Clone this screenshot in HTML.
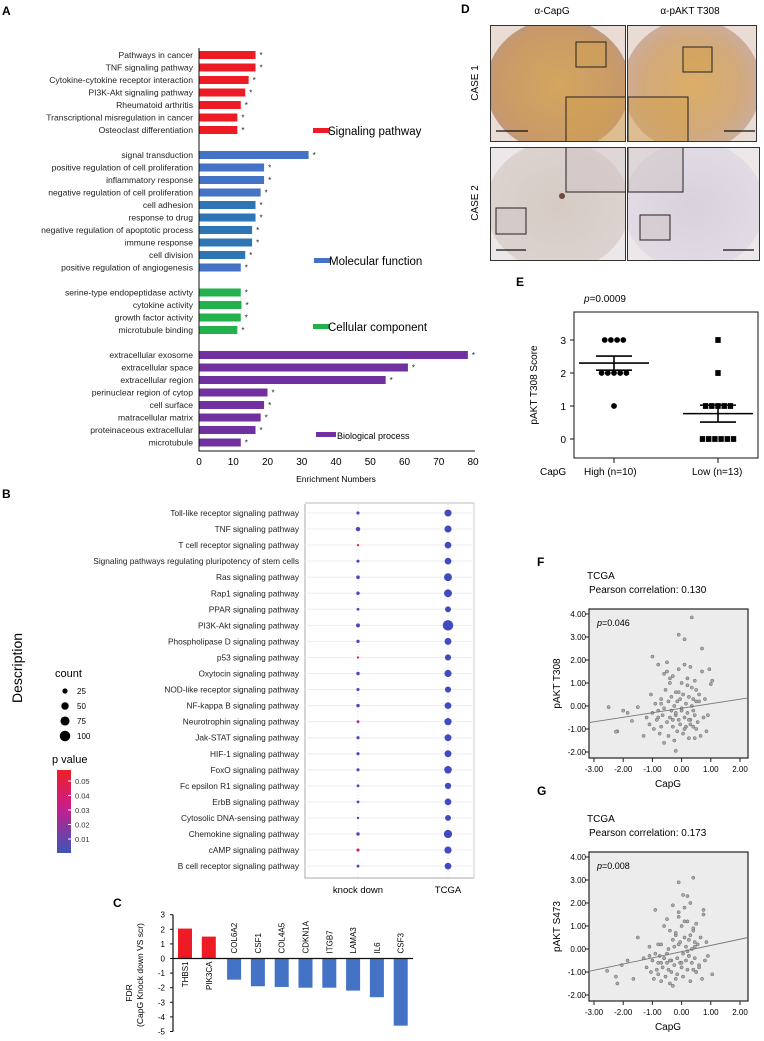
<!DOCTYPE html>
<html><head><meta charset="utf-8"><style>
html,body{margin:0;padding:0;background:#fff}
svg{display:block;font-family:"Liberation Sans",Arial,sans-serif}
</style></head><body>
<svg id="fig" width="764" height="1041" viewBox="0 0 764 1041" xmlns="http://www.w3.org/2000/svg">
<defs>
<radialGradient id="tan" cx="50%" cy="50%" r="60%"><stop offset="0" stop-color="#d4a65e"/><stop offset="0.7" stop-color="#c99a68"/><stop offset="1" stop-color="#b8958c"/></radialGradient>
<radialGradient id="tan2" cx="50%" cy="50%" r="60%"><stop offset="0" stop-color="#dcae66"/><stop offset="0.6" stop-color="#d2a97c"/><stop offset="1" stop-color="#c8b0b0"/></radialGradient>
<radialGradient id="pale" cx="50%" cy="50%" r="60%"><stop offset="0" stop-color="#d6cbc4"/><stop offset="1" stop-color="#ddd4d2"/></radialGradient>
<radialGradient id="pale2" cx="50%" cy="50%" r="60%"><stop offset="0" stop-color="#d8d2dc"/><stop offset="1" stop-color="#e2dde6"/></radialGradient>
<linearGradient id="pgrad" x1="0" y1="0" x2="0" y2="1"><stop offset="0" stop-color="#ee2027"/><stop offset="0.45" stop-color="#c81e8c"/><stop offset="1" stop-color="#3b55b5"/></linearGradient>
<clipPath id="cp1"><rect x="490" y="25" width="136" height="117"/></clipPath>
<clipPath id="cp2"><rect x="627" y="25" width="130" height="117"/></clipPath>
<clipPath id="cp3"><rect x="490" y="147" width="136" height="114"/></clipPath>
<clipPath id="cp4"><rect x="627" y="147" width="133" height="114"/></clipPath>
</defs>
<g id="gA"></g>
<g id="gB"></g>
<g id="gC"></g>
<g id="gD"></g>
<g id="gE"></g>
<g id="gF"></g>
<g id="gG"></g>
</svg>
<script>
const NS="http://www.w3.org/2000/svg";
function mk(parent,tag,attrs,text){const e=document.createElementNS(NS,tag);for(const k in attrs)e.setAttribute(k,attrs[k]);if(text!==undefined)e.textContent=text;parent.appendChild(e);return e;}

// ===== Panel A data =====
const aLabels=["Pathways in cancer","TNF signaling pathway","Cytokine-cytokine receptor interaction","PI3K-Akt signaling pathway","Rheumatoid arthritis","Transcriptional misregulation in cancer","Osteoclast differentiation","signal transduction","positive regulation of cell proliferation","inflammatory response","negative regulation of cell proliferation","cell adhesion","response to drug","negative regulation of apoptotic process","immune response","cell division","positive regulation of angiogenesis","serine-type endopeptidase activty","cytokine activity","growth factor activity","microtubule binding","extracellular exosome","extracellular space","extracellular region","perinuclear region of cytop","cell surface","matracellular matrix","proteinaceous extracellular","microtubule"];
const aValues=[16.5,16.5,14.5,13.5,12.2,11.2,11.2,32,19,19,18,16.5,16.5,15.5,15.5,13.5,12.2,12.2,12.4,12.2,11.2,78.5,61,54.5,20,19,18,16.5,12.2];
const aGroup=[0,0,0,0,0,0,0,1,1,1,1,1,1,1,1,1,1,2,2,2,2,3,3,3,3,3,3,3,3];
const aGroupNames=["Signaling pathway","Molecular function","Cellular component","Biological process"];
const aTicks=[0,10,20,30,40,50,60,70,80];
// ===== Panel B data =====
const bPathways=["Toll-like receptor signaling pathway","TNF signaling pathway","T cell receptor signaling pathway","Signaling pathways regulating pluripotency of stem cells","Ras signaling pathway","Rap1 signaling pathway","PPAR signaling pathway","PI3K-Akt signaling pathway","Phospholipase D signaling pathway","p53 signaling pathway","Oxytocin signaling pathway","NOD-like receptor signaling pathway","NF-kappa B signaling pathway","Neurotrophin signaling pathway","Jak-STAT signaling pathway","HIF-1 signaling pathway","FoxO signaling pathway","Fc epsilon R1 signaling pathway","ErbB signaling pathway","Cytosolic DNA-sensing pathway","Chemokine signaling pathway","cAMP signaling pathway","B cell receptor signaling pathway"];
const bGroups=["knock down","TCGA"];
const bKdCount=[10,20,5,10,13,12,8,16,11,5,12,10,12,8,10,10,10,8,8,6,12,10,8];
const bKdP=[0.005,0.004,0.05,0.005,0.005,0.005,0.005,0.004,0.005,0.05,0.005,0.005,0.005,0.02,0.005,0.005,0.005,0.005,0.005,0.005,0.008,0.04,0.005];
const bTcCount=[50,50,45,45,62,62,35,110,48,38,52,38,45,52,48,48,58,40,45,35,68,52,45];
const bTcP=[0.001,0.001,0.001,0.001,0.001,0.001,0.001,0.001,0.001,0.001,0.001,0.001,0.001,0.001,0.001,0.001,0.001,0.001,0.001,0.001,0.001,0.001,0.001];
const bLegendCounts=[25,50,75,100];
const bLegendP=["0.05","0.04","0.03","0.02","0.01"];
// ===== Panel C data =====
const cGenes=["THBS1","PIK3CA","COL6A2","CSF1","COL4A5","CDKN1A","ITGB7","LAMA3","IL6","CSF3"];
const cValues=[2.05,1.5,-1.45,-1.9,-1.95,-2.0,-2.0,-2.2,-2.65,-4.6];
const cTicks=[3,2,1,0,-1,-2,-3,-4,-5];
// ===== Panel E data =====
const eHigh=[3,3,3,3,2,2,2,2,2,1];
const eLow=[3,2,1,1,1,1,1,0,0,0,0,0,0];
const eTicks=[0,1,2,3];
// ===== Panel F/G data =====
const sxTicks=[-3,-2,-1,0,1,2];
const syTicks=[4,3,2,1,0,-1,-2];
const fX=[-2.5,-2.2,-2.25,-2.0,-1.85,-1.7,-1.5,-1.0,-0.1,0.1,0.35,0.7,0.95,1.05,1.0,-0.2,-1.3,-1.2,-1.1,-1.05,-1.0,-0.95,-0.9,-0.85,-0.8,-0.8,-0.75,-0.7,-0.7,-0.65,-0.6,-0.6,-0.55,-0.5,-0.5,-0.45,-0.45,-0.4,-0.4,-0.35,-0.35,-0.3,-0.3,-0.25,-0.25,-0.2,-0.2,-0.15,-0.15,-0.1,-0.1,-0.05,-0.05,0,0,0.05,0.05,0.1,0.1,0.15,0.15,0.2,0.2,0.25,0.25,0.3,0.3,0.35,0.35,0.4,0.4,0.45,0.45,0.5,0.5,0.55,0.6,0.65,0.7,0.75,0.8,0.85,0.9,-0.6,-0.3,0.0,0.2,0.4,-0.5,-0.1,0.3,0.6,-0.8,-0.4,0.1,0.5,-0.2,0.25,-0.7,0.45];
const fY=[-0.05,-1.1,-1.12,-0.2,-0.3,-0.65,-0.05,2.15,3.1,2.9,3.85,2.5,1.6,1.1,0.95,-1.95,-1.3,-0.5,-0.8,0.5,-0.3,-1.0,0.1,-0.6,1.8,-0.2,-1.2,0.3,-0.9,-0.4,1.4,-0.1,0.7,1.5,-0.7,0.2,-1.3,1.0,-0.5,-0.2,0.4,1.3,-0.9,0.0,-1.5,0.6,-0.4,-1.1,0.2,1.6,-0.6,0.3,-0.8,1.0,-0.2,-1.2,0.5,1.8,-0.5,0.1,-0.9,1.2,-0.3,0.4,-1.4,1.7,-0.6,0.0,0.8,-0.9,0.3,-0.4,1.1,-1.0,0.2,-0.7,0.5,-1.3,1.5,-0.5,0.3,-1.1,-0.4,-1.6,-0.6,-0.1,0.9,-0.2,1.9,0.6,-0.8,0.2,-0.5,1.2,-1.0,0.7,-0.3,-0.6,0.1,-1.4,0.0];
const gX=[-2.55,-2.25,-2.2,-2.05,-1.85,-1.65,-1.5,-1.1,-0.9,-0.1,0.4,0.05,0.2,0.75,1.05,-1.3,-1.2,-1.1,-1.05,-1.0,-0.95,-0.9,-0.85,-0.8,-0.8,-0.75,-0.7,-0.7,-0.65,-0.6,-0.6,-0.55,-0.5,-0.5,-0.45,-0.45,-0.4,-0.4,-0.35,-0.35,-0.3,-0.3,-0.25,-0.25,-0.2,-0.2,-0.15,-0.15,-0.1,-0.1,-0.05,-0.05,0,0,0.05,0.05,0.1,0.1,0.15,0.15,0.2,0.2,0.25,0.25,0.3,0.3,0.35,0.35,0.4,0.4,0.45,0.45,0.5,0.5,0.55,0.6,0.65,0.7,0.75,0.8,0.85,0.9,-0.6,-0.3,0.0,0.2,0.4,-0.5,-0.1,0.3,0.6,-0.8,-0.4,0.1,0.5,-0.2,0.25,-0.7,0.45];
const gY=[-0.95,-1.2,-1.5,-0.7,-0.5,-1.3,0.5,0.1,1.7,2.9,3.1,2.35,2.3,1.7,-1.1,-0.4,-0.8,-0.3,-1.0,-0.5,-1.3,-0.2,-0.9,-0.6,-1.1,-0.3,-1.4,0.2,-0.8,-0.4,1.0,-1.2,-0.6,1.3,-0.9,0.0,-1.5,0.8,-0.5,-1.0,0.4,1.9,-0.7,0.1,-1.3,0.6,-0.4,-1.1,0.2,1.6,-0.6,0.3,-0.8,1.0,-0.2,-1.2,0.5,1.8,-0.5,0.1,-0.9,1.2,-0.3,0.4,-1.4,2.0,-0.6,0.0,0.8,-0.9,0.3,-0.4,1.1,-1.0,0.2,-0.7,0.5,-1.3,1.5,-0.5,0.3,-0.3,-0.4,-1.6,-0.6,-0.1,0.9,-0.2,1.4,0.6,-0.8,0.2,-0.5,1.2,-1.0,0.7,-0.3,-0.6,0.1,-1.4,0.0];
const fLine=[-0.72,0.35];
const gLine=[-0.97,0.5];

// ====== Panel A ======
(function(){
const g=document.getElementById('gA');
const L=mk(g,'text',{x:2,y:15,'font-size':12,'font-weight':'bold'},'A');

const x0=199,xs=3.425;const X=v=>x0+v*xs;
const colors=["#ed1c24","#4472c4","#22b14c","#7030a0"];
const rowY=[];let y=55;
for(let i=0;i<aLabels.length;i++){if(i>0&&aGroup[i]!==aGroup[i-1])y+=12.5;rowY.push(y);y+=12.5;}
for(let i=0;i<aLabels.length;i++){
 const c=(aGroup[i]===1&&i>=11&&i<=15)?"#2e75b6":colors[aGroup[i]];
 const r=mk(g,'rect',{x:x0,y:rowY[i]-4,width:X(aValues[i])-x0,height:8,fill:c});
 
 const t=mk(g,'text',{x:193,y:rowY[i]+3,'font-size':8.6,'text-anchor':'end',fill:'#222'},aLabels[i]);
 
 const s=mk(g,'text',{x:X(aValues[i])+4,y:rowY[i]+3,'font-size':8,fill:'#222'},'*');
 
}
const ax=mk(g,'path',{d:`M${x0} 48V451H${X(80)+2}`,stroke:'#111',fill:'none','stroke-width':1});

aTicks.forEach(v=>{const t=mk(g,'text',{x:X(v),y:465,'font-size':10,'text-anchor':'middle'},String(v));
 });
const xt=mk(g,'text',{x:336,y:482,'font-size':8.5,'text-anchor':'middle'},'Enrichment Numbers');

const legY=[131,261,327,435],legX=[313,314,313,316],legFs=[11.5,11.5,11.5,9];
aGroupNames.forEach((n,i)=>{
 const gg=mk(g,'g',{});
 mk(gg,'rect',{x:legX[i],y:legY[i]-3,width:i===3?20:17,height:5,fill:colors[i]});
 mk(gg,'text',{x:legX[i]+(i===3?21:15),y:legY[i]+4,'font-size':legFs[i]},n);
});
})();

// ====== Panel B ======
(function(){
const g=document.getElementById('gB');
const L=mk(g,'text',{x:2,y:498,'font-size':12,'font-weight':'bold'},'B');

const y0=513,dy=16.05,Y=i=>y0+i*dy;const colX=[358,448];
const frame=mk(g,'path',{d:'M305 504V878H474',stroke:'#aaa',fill:'none','stroke-width':1});

mk(g,'line',{x1:474,y1:503,x2:474,y2:878,stroke:'#ccc'});
mk(g,'line',{x1:305,y1:503,x2:474,y2:503,stroke:'#bbb'});
const pc=p=>{const t=Math.min(p/0.05,1);const a=[59,76,192],m=[200,30,150],b=[237,28,36];let c;
 if(t<0.5){const u=t/0.5;c=a.map((v,k)=>Math.round(v+(m[k]-v)*u));}else{const u=(t-0.5)/0.5;c=m.map((v,k)=>Math.round(v+(b[k]-v)*u));}
 return `rgb(${c})`;};
const R=n=>0.5*Math.sqrt(n);
colX.forEach(x=>{mk(g,'line',{x1:x,y1:504,x2:x,y2:878,stroke:'#e6e6ee','stroke-dasharray':'1 2'});});
bPathways.forEach((p,i)=>{
 const gl=mk(g,'line',{x1:305,y1:Y(i),x2:474,y2:Y(i),stroke:'#eeeef2','stroke-width':1});
 
 const t=mk(g,'text',{x:299,y:Y(i)+3,'font-size':8.3,'text-anchor':'end',fill:'#222'},p);
 
 const d1=mk(g,'circle',{cx:colX[0],cy:Y(i),r:R(bKdCount[i]),fill:pc(bKdP[i])});
 
 const d2=mk(g,'circle',{cx:colX[1],cy:Y(i),r:R(bTcCount[i]),fill:pc(bTcP[i])});
 
});
bGroups.forEach((n,i)=>{const t=mk(g,'text',{x:colX[i],y:893,'font-size':9.5,'text-anchor':'middle'},n);
 });
const dt=mk(g,'text',{x:0,y:0,'font-size':14,'text-anchor':'middle',transform:'translate(22,668) rotate(-90)'},'Description');

const ct=mk(g,'text',{x:55,y:677,'font-size':11},'count');
bLegendCounts.forEach((c,i)=>{const yy=691+i*15;
 const gg=mk(g,'g',{});
 mk(gg,'circle',{cx:65,cy:yy,r:R(c)*1.05,fill:'#000'});mk(gg,'text',{x:77,y:yy+3,'font-size':8},String(c));});
const pt=mk(g,'text',{x:52,y:763,'font-size':11},'p value');
const cb=mk(g,'rect',{x:57,y:770,width:14,height:83,fill:'url(#pgrad)'});
bLegendP.forEach((l,i)=>{const yy=781+i*14.5;mk(g,'line',{x1:68,y1:yy,x2:71,y2:yy,stroke:'#fff'});
 const t=mk(g,'text',{x:75,y:yy+3,'font-size':7.5,fill:'#333'},l);});
})();

// ====== Panel C ======
(function(){
const g=document.getElementById('gC');
const L=mk(g,'text',{x:113,y:907,'font-size':12,'font-weight':'bold'},'C');

const y0=958.5,ys=14.6,Y=v=>y0-v*ys;const xs0=185,dx=23.8;
const ax=mk(g,'line',{x1:173,y1:Y(3),x2:173,y2:Y(-5),stroke:'#111','stroke-width':1.2});

cTicks.forEach(v=>{mk(g,'line',{x1:170,y1:Y(v),x2:173,y2:Y(v),stroke:'#111'});
 const t=mk(g,'text',{x:165,y:Y(v)+3,'font-size':8,'text-anchor':'end'},String(v));});
cGenes.forEach((n,i)=>{const cx=xs0+i*dx+(i>=2?1.5:0);const v=cValues[i];
 const r=mk(g,'rect',{x:cx-7,y:Math.min(Y(v),y0),width:14,height:Math.abs(Y(v)-y0),fill:v>0?'#ed1c24':'#4472c4'});
 
 let t;if(v>0){t=mk(g,'text',{x:0,y:0,'font-size':8,transform:`translate(${cx+3},${y0+3}) rotate(-90)`,'text-anchor':'end'},n);}
 else{t=mk(g,'text',{x:0,y:0,'font-size':8,transform:`translate(${cx+3},${y0-5}) rotate(-90)`,'text-anchor':'start'},n);}
 });
const zl=mk(g,'line',{x1:173,y1:y0,x2:413,y2:y0,stroke:'#111','stroke-width':1.2});
const t1=mk(g,'text',{x:0,y:0,'font-size':8.5,'text-anchor':'middle',transform:'translate(132,993) rotate(-90)'},'FDR');

const t2=mk(g,'text',{x:0,y:0,'font-size':8.5,'text-anchor':'middle',transform:'translate(143,975) rotate(-90)'},'(CapG Knock down VS scr)');

})();

// ====== Panel D ======
(function(){
const g=document.getElementById('gD');
const L=mk(g,'text',{x:461,y:13,'font-size':12,'font-weight':'bold'},'D');
[['α-CapG',552],['α-pAKT T308',690]].forEach(([n,x])=>{const t=mk(g,'text',{x:x,y:14,'font-size':10,'text-anchor':'middle'},n);});
[['CASE 1',83],['CASE 2',203]].forEach(([n,y])=>{const t=mk(g,'text',{x:0,y:0,'font-size':10,'text-anchor':'middle',transform:`translate(478,${y}) rotate(-90)`},n);});
const panes=[[490,25,136,117,'url(#tan)',[[576,42,30,25],[566,97,60,45]],[496,131,528,131]],
 [627,25,130,117,'url(#tan2)',[[683,47,29,25],[628,97,60,45]],[724,131,755,131]],
 [490,147,136,114,'url(#pale)',[[566,147,60,45],[496,208,30,26]],[496,250,526,250]],
 [627,147,133,114,'url(#pale2)',[[628,147,55,45],[640,215,30,25]],[723,250,754,250]]];
panes.forEach((p,i)=>{const gg=mk(g,'g',{'clip-path':`url(#cp${i+1})`});
 mk(gg,'rect',{x:p[0],y:p[1],width:p[2],height:p[3],fill:i<2?'#e9dcd4':'#ece8ea'});
 mk(gg,'ellipse',{cx:p[0]+p[2]/2,cy:p[1]+p[3]/2+2,rx:p[2]/2+4,ry:p[3]/2+8,fill:p[4]});
 p[5].forEach(b=>{mk(gg,'rect',{x:b[0],y:b[1],width:b[2],height:b[3],fill:i<2?'#d2a050':'#cfc4c4','fill-opacity':0.5,stroke:'#222','stroke-width':1});});
 mk(gg,'line',{x1:p[6][0],y1:p[6][1],x2:p[6][2],y2:p[6][3],stroke:'#111','stroke-width':1.2});
 mk(gg,'rect',{x:p[0],y:p[1],width:p[2],height:p[3],fill:'none',stroke:'#333','stroke-width':2});});
mk(g,'circle',{cx:562,cy:196,r:3,fill:'#6b4a3a'});
})();

// ====== Panel E ======
(function(){
const g=document.getElementById('gE');
const L=mk(g,'text',{x:516,y:286,'font-size':12,'font-weight':'bold'},'E');
const pt=mk(g,'text',{x:584,y:302,'font-size':10},'');
mk(pt,'tspan',{'font-style':'italic'},'p');mk(pt,'tspan',{},'=0.0009');
const Y=v=>439-v*33;
const box=mk(g,'rect',{x:574,y:312,width:184,height:146,fill:'none',stroke:'#111','stroke-width':1});
eTicks.forEach(v=>{mk(g,'line',{x1:570,y1:Y(v),x2:574,y2:Y(v),stroke:'#111'});const t=mk(g,'text',{x:566,y:Y(v)+4,'font-size':10,'text-anchor':'end'},String(v));});
const yt=mk(g,'text',{x:0,y:0,'font-size':10,'text-anchor':'middle',transform:'translate(537,385) rotate(-90)'},'pAKT T308 Score');
const cxs=[614,718];
[eHigh,eLow].forEach((arr,gi)=>{const cnt={};arr.forEach(v=>cnt[v]=(cnt[v]||0)+1);const seen={};
 arr.forEach(v=>{const n=cnt[v],k=(seen[v]=(seen[v]||0)+1)-1;const x=cxs[gi]+(k-(n-1)/2)*6.2;
  let m;if(gi===0)m=mk(g,'circle',{cx:x,cy:Y(v),r:2.9,fill:'#000'});else m=mk(g,'rect',{x:x-2.7,y:Y(v)-2.9,width:5.4,height:5.8,fill:'#000'});
  });
 const mean=arr.reduce((a,b)=>a+b,0)/arr.length;const sd=Math.sqrt(arr.reduce((a,b)=>a+(b-mean)**2,0)/(arr.length-1));const se=sd/Math.sqrt(arr.length);
 const eb=mk(g,'g',{stroke:'#000','stroke-width':1.6});
 mk(eb,'line',{x1:cxs[gi]-35,y1:Y(mean),x2:cxs[gi]+35,y2:Y(mean)});
 mk(eb,'line',{x1:cxs[gi],y1:Y(mean+se),x2:cxs[gi],y2:Y(mean-se)});
 mk(eb,'line',{x1:cxs[gi]-18,y1:Y(mean+se),x2:cxs[gi]+18,y2:Y(mean+se)});
 mk(eb,'line',{x1:cxs[gi]-18,y1:Y(mean-se),x2:cxs[gi]+18,y2:Y(mean-se)});
 mk(g,'line',{x1:cxs[gi],y1:458,x2:cxs[gi],y2:463,stroke:'#111'});});
[['CapG',540],['High (n=10)',584],['Low (n=13)',692]].forEach(([n,x])=>{const t=mk(g,'text',{x:x,y:475,'font-size':10},n);});
})();

// ====== Scatter F/G ======
function scatter(id,letter,ly,top,boxTop,boxBot,pText,pear,yTitle,xs,ys,line){
const g=document.getElementById(id);
const L=mk(g,'text',{x:537,y:ly,'font-size':12,'font-weight':'bold'},letter);
const t1=mk(g,'text',{x:587,y:top,'font-size':10},'TCGA');
const t2=mk(g,'text',{x:589,y:top+14,'font-size':10},pear);
const y4=boxTop+5,ym2=boxBot-6;const Y=v=>y4+(4-v)*(ym2-y4)/6;const X=v=>594+(v+3)*29.2;
const bx=mk(g,'rect',{x:589,y:boxTop,width:159,height:boxBot-boxTop,fill:'#ececec',stroke:'#222','stroke-width':1.2});
syTicks.forEach(v=>{mk(g,'line',{x1:585,y1:Y(v),x2:589,y2:Y(v),stroke:'#222'});const t=mk(g,'text',{x:586,y:Y(v)+3,'font-size':8,'text-anchor':'end'},v.toFixed(2));});
sxTicks.forEach(v=>{mk(g,'line',{x1:X(v),y1:boxBot,x2:X(v),y2:boxBot+4,stroke:'#222'});const t=mk(g,'text',{x:X(v),y:boxBot+14,'font-size':8,'text-anchor':'middle'},v.toFixed(2));});
const xt=mk(g,'text',{x:668,y:boxBot+29,'font-size':10,'text-anchor':'middle'},'CapG');
const yt=mk(g,'text',{x:0,y:0,'font-size':10,'text-anchor':'middle',transform:`translate(560,${(boxTop+boxBot)/2}) rotate(-90)`},yTitle);
const pt=mk(g,'text',{x:597,y:boxTop+17,'font-size':9},'');
mk(pt,'tspan',{'font-style':'italic'},'p');mk(pt,'tspan',{},pText);
xs.forEach((x,i)=>{const c=mk(g,'circle',{cx:X(x),cy:Y(ys[i]),r:1.6,fill:'#aaa',stroke:'#666','stroke-width':0.5});});
const rl=mk(g,'line',{x1:589,y1:Y(line[0]),x2:748,y2:Y(line[1]),stroke:'#777','stroke-width':0.9});
}
scatter('gF','F',566,579,609,758,'=0.046','Pearson correlation: 0.130','pAKT T308',fX,fY,fLine);
scatter('gG','G',795,822,852,1001,'=0.008',' Pearson correlation: 0.173','pAKT S473',gX,gY,gLine);
</script>
</body></html>
